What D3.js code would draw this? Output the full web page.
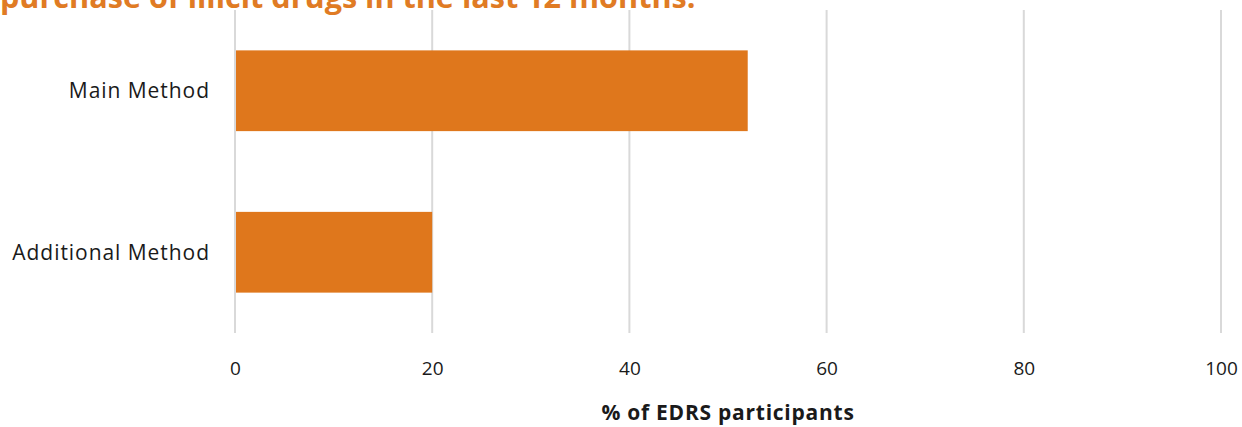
<!DOCTYPE html>
<html><head><meta charset="utf-8">
<script src="https://cdn.jsdelivr.net/npm/d3@7"></script>
<style>body{margin:0;background:#fff}svg{display:block}</style>
</head><body>
<svg id="c" width="1242" height="427"></svg>
<script>
const categories = ["Main Method", "Additional Method"];
const values = [52, 20];
const ticks = [0, 20, 40, 60, 80, 100];
const titleText = "purchase of illicit drugs in the last 12 months.";
const axisTitle = "% of EDRS participants";

const svg = d3.select("#c");
const font = "'Open Sans', sans-serif";
const x = d3.scaleLinear().domain([0, 100]).range([235, 1221]);
const y = d3.scaleBand().domain(categories).range([10, 333]).paddingInner(0.5).paddingOuter(0.25);

svg.append("g").selectAll("line").data(ticks).join("line")
  .attr("x1", d => x(d)).attr("x2", d => x(d))
  .attr("y1", 10).attr("y2", 333)
  .attr("stroke", "#d9d9d9").attr("stroke-width", 2);

svg.append("g").selectAll("rect").data(categories).join("rect")
  .attr("x", x(0)+1).attr("y", d => y(d))
  .attr("width", (d,i) => x(values[i]) - x(0) - 1)
  .attr("height", y.bandwidth())
  .attr("fill", "#DF771C");

svg.append("g").selectAll("text").data(categories).join("text")
  .attr("x", 210).attr("y", d => y(d) + y.bandwidth()/2)
  .attr("dy", "0.35em").attr("text-anchor", "end")
  .attr("font-family", font).attr("font-size", 21).attr("letter-spacing", 0.95).attr("fill", "#1a1a1a")
  .text(d => d);

const xAxis = d3.axisBottom(x).tickValues(ticks).tickSize(0).tickPadding(0);
const ax = svg.append("g").attr("transform", "translate(0,368)").call(xAxis);
ax.select(".domain").remove();
ax.selectAll("text").attr("font-family", font).attr("font-size", 19).attr("fill", "#1a1a1a").attr("dy", "0.35em");

svg.append("text").attr("x", x(50)).attr("y", 420).attr("text-anchor", "middle")
  .attr("font-family", font).attr("font-size", 21).attr("font-weight", "bold").attr("letter-spacing", 0.75).attr("fill", "#1a1a1a")
  .text(axisTitle);

svg.append("text").attr("x", 0).attr("y", 8)
  .attr("font-family", font).attr("font-size", 30.6).attr("font-weight", "bold").attr("fill", "#E07B24")
  .text(titleText);
</script>
</body></html>
